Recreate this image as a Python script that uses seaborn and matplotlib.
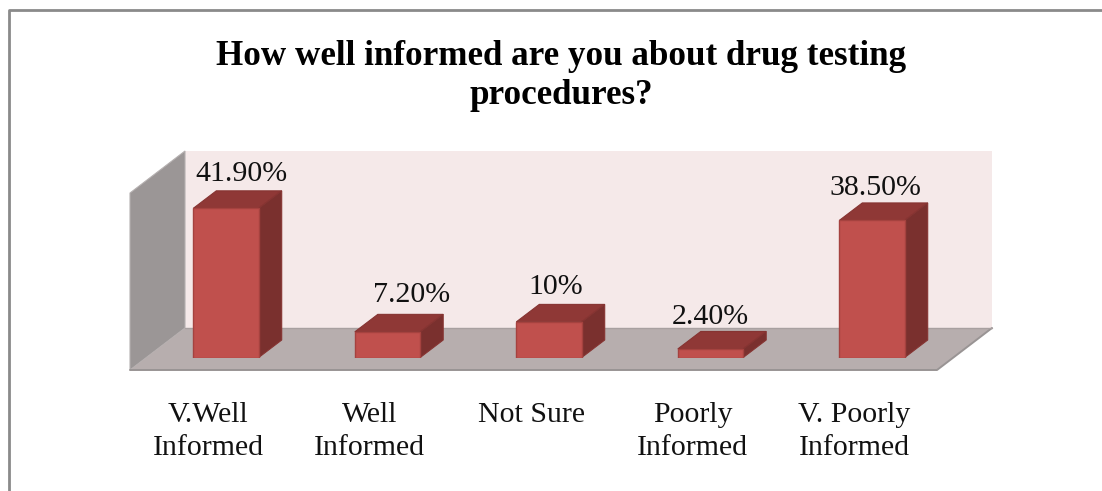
import matplotlib
matplotlib.use("Agg")
import matplotlib.pyplot as plt
from matplotlib.patches import Polygon
from matplotlib.lines import Line2D
import numpy as np
import seaborn as sns

categories = ["V.Well\nInformed", "Well\nInformed", "Not Sure", "Poorly\nInformed", "V. Poorly\nInformed"]
values = [41.9, 7.2, 10.0, 2.4, 38.5]
value_labels = ["41.90%", "7.20%", "10%", "2.40%", "38.50%"]
title = "How well informed are you about drug testing\nprocedures?"

# layout (pixels in the 1102x491 picture)
W, H = 1102, 491
LABEL_NUDGE = [(15, 19), (24, 22), (7, 20), (0, 17), (3, 17)]

sns.set_theme(style="white")
plt.rcParams["font.family"] = ["Liberation Serif", "DejaVu Serif"]

fig = plt.figure(figsize=(W / 100, H / 100), dpi=100, facecolor="white")
ax = fig.add_axes([145.25 / W, 1 - 357.5 / H, 807.5 / W, 206.5 / H])
ax.patch.set_visible(False)
ax.set_zorder(5)


def add_px(points, **kw):
    pts = [(x / W, 1 - y / H) for x, y in points]
    p = Polygon(pts, closed=True, transform=fig.transFigure, **kw)
    fig.add_artist(p)
    return p


# chart frame (open on right and bottom)
fig.add_artist(Line2D([8.5 / W, 8.5 / W, 1], [0, 1 - 9.5 / H, 1 - 9.5 / H],
                      transform=fig.transFigure, color="#8a8a8a", lw=2))
# 3-D box
add_px([(184, 151), (992, 151), (992, 328), (184, 328)], fc="#F5E9E9", ec="none", zorder=1)
add_px([(130, 193), (185, 151), (185, 328), (130, 370)], fc="#9B9696", ec="#B5B0B0", lw=0.8, zorder=1)
add_px([(130, 370), (185, 328), (992, 328), (937, 370)], fc="#B7AEAE", ec="none", zorder=1)
fig.add_artist(Line2D([130 / W, 937 / W, 992 / W], [1 - 370 / H, 1 - 370 / H, 1 - 328 / H],
                      transform=fig.transFigure, color="#999494", lw=1.4, zorder=1.5))
fig.add_artist(Line2D([185 / W, 992 / W], [1 - 328 / H, 1 - 328 / H],
                      transform=fig.transFigure, color="#A8A0A0", lw=1, zorder=1.5))

sns.barplot(x=categories, y=values, ax=ax, width=0.405, color="#C0504D", saturation=1,
            edgecolor="#A5423F", linewidth=1, zorder=3)
ax.set_xlim(-0.5, 4.5)
ax.set_ylim(0, 206.5 / 3.56)
ax.set_xlabel("")
ax.set_ylabel("")
ax.set_yticks([])
ax.set_xticks(np.arange(len(categories)) - 18 / 161.5, categories)
ax.tick_params(axis="x", length=0, pad=31.8, labelsize=21.5, labelcolor="#111111")
for lab in ax.get_xticklabels():
    lab.set_linespacing(1.37)
sns.despine(ax=ax, left=True, bottom=True)

# depth faces derived from each bar
dx = 23 / 161.5
dy = 17.5 / 3.56
for bar in list(ax.patches):
    x0, x1 = bar.get_x(), bar.get_x() + bar.get_width()
    h = bar.get_height()
    ax.add_patch(Polygon([(x0, h), (x0 + dx, h + dy), (x1 + dx, h + dy), (x1, h)],
                         fc="#8F3836", ec="#863432", lw=0.8, zorder=2, clip_on=False))
    ax.add_patch(Polygon([(x1, 0), (x1 + dx, dy), (x1 + dx, h + dy), (x1, h)],
                         fc="#7A302E", ec="#863432", lw=0.8, zorder=2, clip_on=False))

for i, (v, t, (ox, oy)) in enumerate(zip(values, value_labels, LABEL_NUDGE)):
    ax.annotate(t, (i, v), xytext=(ox * 0.72, (oy + 15) * 0.72), textcoords="offset points",
                ha="center", va="center", fontsize=21.5, color="#111111", zorder=5,
                annotation_clip=False)

fig.text(561 / W, 1 - 76 / H, title, ha="center", va="center", fontsize=25.2,
         fontweight="bold", color="black", linespacing=1.27)

fig.savefig("out.png", dpi=100, facecolor="white")
